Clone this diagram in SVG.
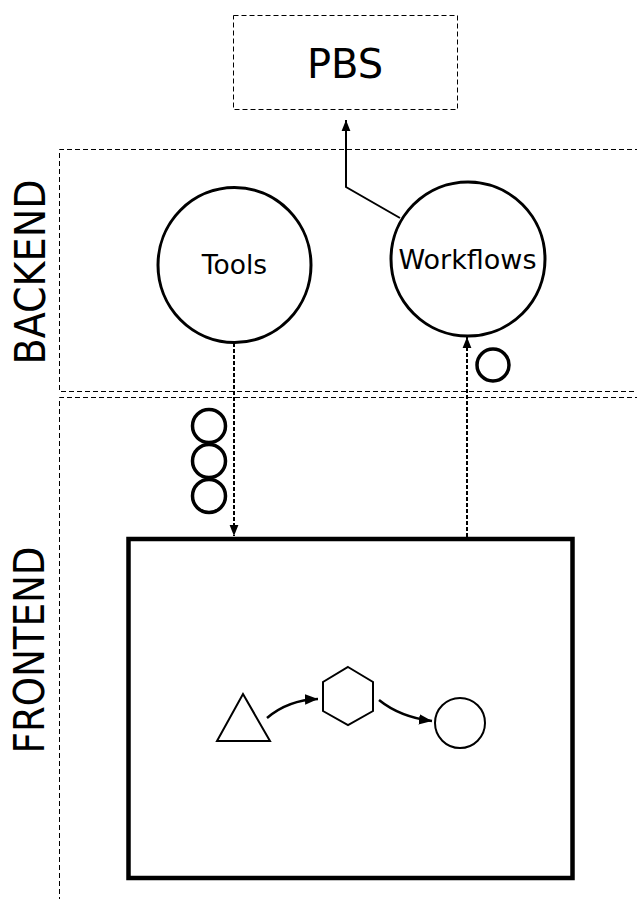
<svg xmlns="http://www.w3.org/2000/svg" width="637" height="899" viewBox="0 0 637 899">
<defs>
<style>
.zone{fill:none;stroke:#000;stroke-width:1;stroke-dasharray:5,3}
.node{fill:#fff;stroke:#000;stroke-width:3}
.lbl{font-family:"DejaVu Sans","Liberation Sans",sans-serif;fill:#000;text-anchor:middle}
.big{font-family:"DejaVu Sans Condensed","DejaVu Sans","Liberation Sans",sans-serif;fill:#000;text-anchor:middle;font-size:42px}
.dconn{fill:none;stroke:#000;stroke-width:2;stroke-dasharray:4,2}
.conn{fill:none;stroke:#000;stroke-width:2}
.shape{fill:#fff;stroke:#000;stroke-width:2}
.tok{fill:none;stroke:#000;stroke-width:3.5}
</style>
<marker id="ah" viewBox="0 0 10 10" refX="10" refY="5" markerWidth="11" markerHeight="11" markerUnits="userSpaceOnUse" orient="auto">
<path d="M0,1 L10,5 L0,9 z" fill="#000"/>
</marker>
<marker id="ah2" viewBox="0 0 10 10" refX="10" refY="5" markerWidth="13" markerHeight="13" markerUnits="userSpaceOnUse" orient="auto">
<path d="M0,1 L10,5 L0,9 z" fill="#000"/>
</marker>
</defs>

<g id="zones">
<path class="zone" d="M640,149.5 H59.5 V391.5 H640"/>
<path class="zone" d="M640,397.5 H59.5 V899"/>
<text class="big" transform="translate(45,272) rotate(-90)" textLength="185" lengthAdjust="spacingAndGlyphs">BACKEND</text>
<text class="big" transform="translate(44,650) rotate(-90)" textLength="207" lengthAdjust="spacingAndGlyphs">FRONTEND</text>
</g>

<g id="connectors">
<path class="conn" d="M400,218 L346,187 L346,120" marker-end="url(#ah)"/>
<path class="dconn" d="M234,343 V536" marker-end="url(#ah)"/>
<path class="dconn" d="M467,537 V337" marker-end="url(#ah)"/>
<path d="M267,718 Q288,700 318,699" fill="none" stroke="#000" stroke-width="2.5" marker-end="url(#ah2)"/>
<path d="M379,700 Q400,717 432,721" fill="none" stroke="#000" stroke-width="2.5" marker-end="url(#ah2)"/>
</g>

<g id="pbs">
<rect class="zone" x="233.5" y="15.5" width="224" height="94"/>
<text class="lbl" x="345" y="78" font-size="40">PBS</text>
</g>

<g id="tools">
<ellipse class="node" cx="234.5" cy="265" rx="76.5" ry="77.5"/>
<text class="lbl" x="234.5" y="274" font-size="26.5">Tools</text>
</g>

<g id="workflows">
<circle class="node" cx="468" cy="259" r="77"/>
<text class="lbl" x="467.5" y="269" font-size="27">Workflows</text>
</g>

<g id="token-workflow">
<circle class="tok" cx="493" cy="365" r="16"/>
</g>

<g id="tokens-tools">
<circle class="tok" cx="209" cy="426" r="16.5"/>
<circle class="tok" cx="209" cy="461" r="16.5"/>
<circle class="tok" cx="209" cy="496" r="16.5"/>
</g>

<g id="frontend-box">
<rect x="128.5" y="539" width="444" height="339" fill="none" stroke="#000" stroke-width="4.5"/>
</g>

<g id="triangle">
<polygon class="shape" points="217,741 243,694 270,741"/>
</g>
<g id="hexagon">
<polygon class="shape" points="348,667 373,682 373,711 348,725 323,711 323,682"/>
</g>
<g id="circle">
<circle class="shape" cx="460" cy="723" r="25"/>
</g>
</svg>
